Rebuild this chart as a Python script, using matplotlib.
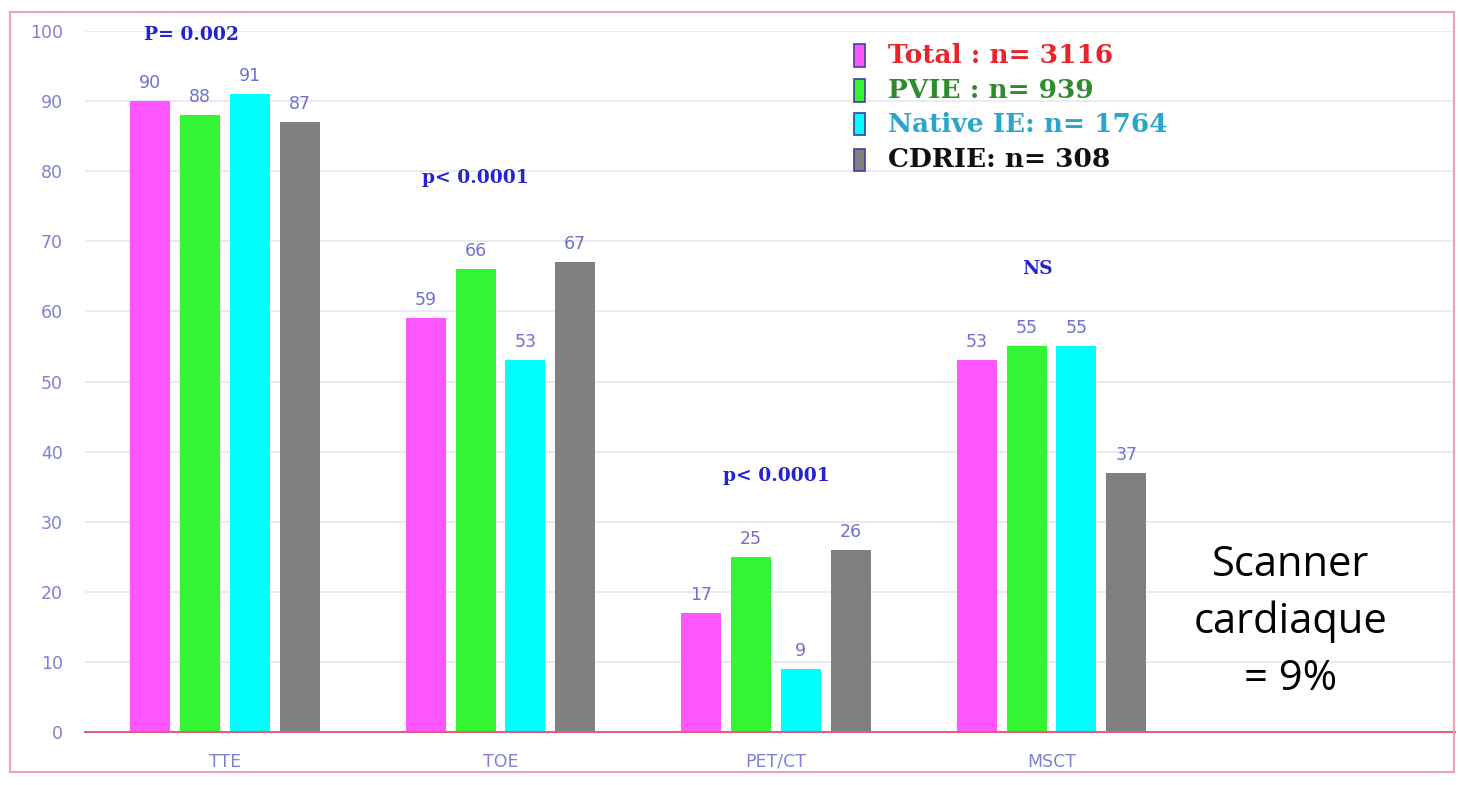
import matplotlib
matplotlib.use("Agg")
import matplotlib.pyplot as plt
import numpy as np
from matplotlib.patches import Rectangle

categories = ["TTE", "TOE", "PET/CT", "MSCT"]
series_names = ["Total : n= 3116", "PVIE : n= 939", "Native IE: n= 1764", "CDRIE: n= 308"]
total = [90, 59, 17, 53]
pvie = [88, 66, 25, 55]
native = [91, 53, 9, 55]
cdrie = [87, 67, 26, 37]
pvalues = ["P= 0.002", "p< 0.0001", "p< 0.0001", "NS"]
pvalue_y = [99.5, 79, 36.5, 66]
yticks = list(range(0, 101, 10))

bar_colors = ["#ff55ff", "#33f533", "#00ffff", "#808080"]
legend_text_colors = ["#e8242a", "#2e8b2e", "#2aa6cc", "#111111"]
tick_color = "#8080d8"

fig = plt.figure(figsize=(14.58, 7.85), dpi=100)
ax = fig.add_axes([0.0583, 0.0675, 0.9397, 0.893])

x = np.arange(len(categories))
step = 0.181
width = 0.145
data = [total, pvie, native, cdrie]
for i, (vals, col) in enumerate(zip(data, bar_colors)):
    xs = x + (i - 1.5) * step
    ax.bar(xs, vals, width=width, color=col, zorder=3)
    for xi, v in zip(xs, vals):
        ax.text(xi, v + 1.3, str(v), ha="center", va="bottom", fontsize=12.5,
                color="#7070d0", zorder=4)

offsets = [-0.12, -0.09, 0.0, -0.05]
for xi, txt, yy, off in zip(x, pvalues, pvalue_y, offsets):
    ax.text(xi + off, yy, txt, ha="center", va="center", fontsize=13.5, fontweight="bold",
            family="DejaVu Serif", color="#2323d0", zorder=4)

ax.set_xlim(-0.508, 4.465)
ax.set_ylim(0, 100)
ax.set_yticks(yticks)
ax.set_xticks(x)
ax.set_xticklabels(categories)
ax.tick_params(axis="both", length=0, colors=tick_color, labelsize=12.5)
ax.tick_params(axis="x", pad=15)
ax.tick_params(axis="y", pad=16)
ax.grid(axis="y", color="#e6e6f2", linewidth=1.2, zorder=0)
for s in ["top", "right", "left"]:
    ax.spines[s].set_visible(False)
ax.spines["bottom"].set_color("#e0607a")
ax.spines["bottom"].set_linewidth(1.5)
ax.spines["bottom"].set_zorder(5)

# legend drawn manually in axes coords
leg_y = [0.965, 0.915, 0.867, 0.816]
for name, bc, tc, ly in zip(series_names, bar_colors, legend_text_colors, leg_y):
    ax.add_patch(Rectangle((0.561, ly - 0.016), 0.0085, 0.032, transform=ax.transAxes,
                           facecolor=bc, edgecolor="#4040a0", linewidth=1.2, zorder=6,
                           clip_on=False))
    ax.text(0.586, ly, name, transform=ax.transAxes, ha="left", va="center",
            fontsize=19, fontweight="bold", family="DejaVu Serif", color=tc, zorder=6)

ax.text(0.8796, 0.157, "Scanner\ncardiaque\n= 9%", transform=ax.transAxes,
        ha="center", va="center", fontsize=30, family="Open Sans", color="black",
        linespacing=1.45, zorder=6)

# outer border
fig.patches.append(Rectangle((10 / 1458, 1 - 772 / 785), 1444 / 1458, 760 / 785,
                             transform=fig.transFigure, fill=False,
                             edgecolor="#f0a0b0", linewidth=1.5, zorder=10))

fig.savefig("out.png", dpi=100)
